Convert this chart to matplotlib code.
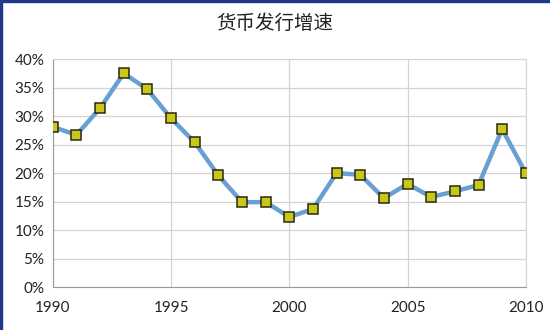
import matplotlib
matplotlib.use("Agg")
import matplotlib.pyplot as plt
from matplotlib.ticker import FuncFormatter
from matplotlib.patches import Rectangle

# Money issuance growth, percent
years = [1990, 1991, 1992, 1993, 1994, 1995, 1996, 1997, 1998, 1999, 2000,
         2001, 2002, 2003, 2004, 2005, 2006, 2007, 2008, 2009, 2010]
growth = [28.1, 26.7, 31.4, 37.5, 34.7, 29.6, 25.4, 19.6, 14.9, 14.9, 12.3,
          13.7, 20.0, 19.7, 15.6, 18.1, 15.8, 16.8, 17.9, 27.7, 20.0]
xticks = [1990, 1995, 2000, 2005, 2010]
yticks = [0, 5, 10, 15, 20, 25, 30, 35, 40]
title = "货币发行增速"

plt.rcParams['font.family'] = ['Lato', 'DejaVu Sans']

fig = plt.figure(figsize=(5.5, 3.3), dpi=100)
ax = fig.add_axes([0.096, 0.130, 0.860, 0.691])

ax.plot(years, growth, color="#6a9fd2", linewidth=3.2, zorder=3,
        marker="s", markersize=6.8, markerfacecolor="#c9c818",
        markeredgecolor="#2a2a10", markeredgewidth=1.1, solid_joinstyle="miter")

ax.set_xlim(1990, 2010)
ax.set_ylim(0, 40)
ax.set_xticks(xticks)
ax.set_yticks(yticks)
ax.yaxis.set_major_formatter(FuncFormatter(lambda v, p: "%d%%" % v))
ax.grid(True, color="#d4d4d4", linewidth=0.9)
ax.set_axisbelow(True)
ax.tick_params(length=0, labelsize=11, colors="#222222", pad=6)
ax.tick_params(axis="x", pad=10)
for s in ["top", "right"]:
    ax.spines[s].set_color("#d4d4d4")
for s in ["left", "bottom"]:
    ax.spines[s].set_color("#9a9a9a")

fig.text(0.5, 0.93, title, ha="center", va="center", fontsize=14,
         family=["Noto Sans CJK SC", "DejaVu Sans"], color="#222222")

# dark blue frame on the left and top edges
fig.patches.append(Rectangle((0, 0), 0.004, 1, transform=fig.transFigure,
                             color="#1f3a8a", zorder=10))
fig.patches.append(Rectangle((0, 0.995), 1, 0.005, transform=fig.transFigure,
                             color="#1f3a8a", zorder=10))

fig.savefig("out.png", dpi=100)
